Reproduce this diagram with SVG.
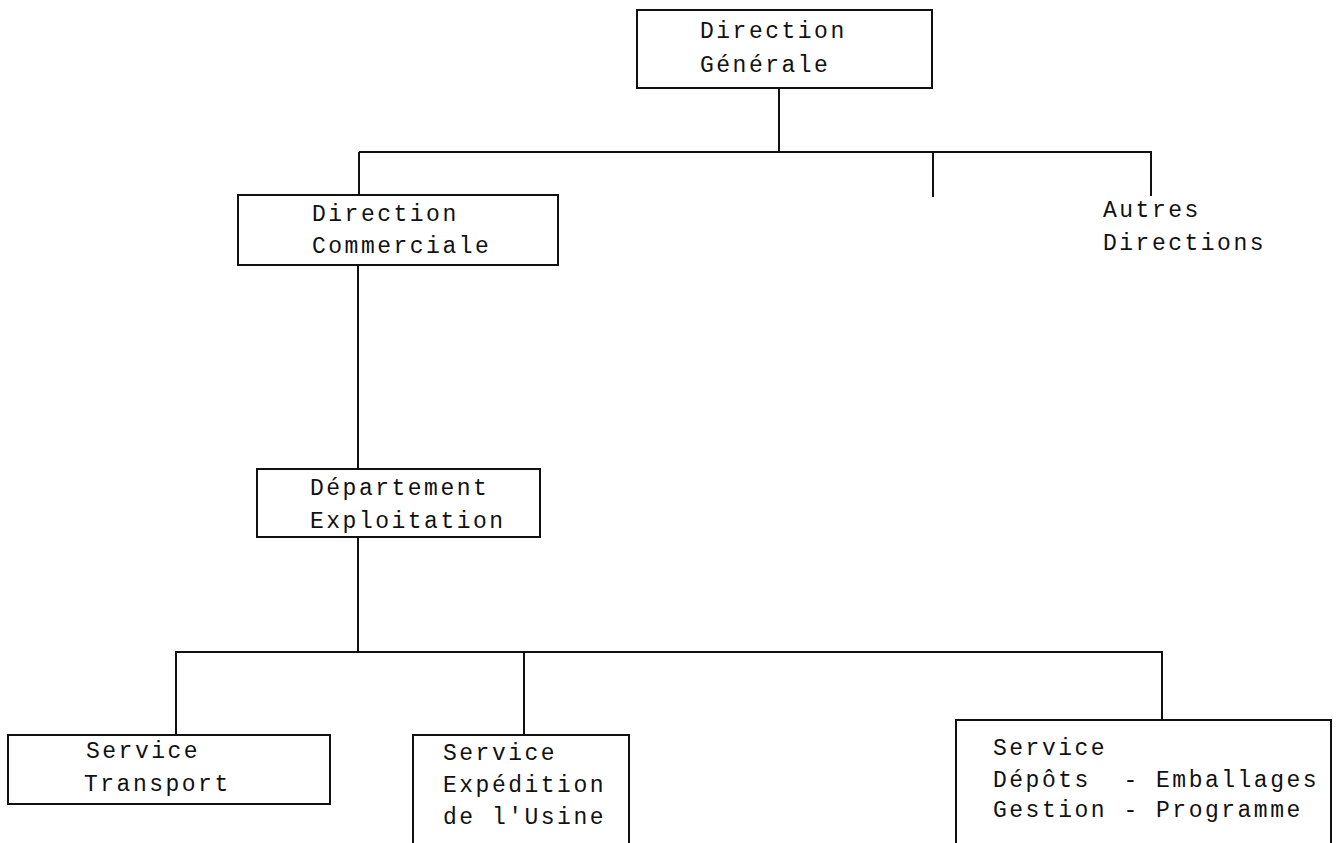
<svg xmlns="http://www.w3.org/2000/svg" width="1339" height="843" viewBox="0 0 1339 843">
<style>
.box{fill:none;stroke:#111;stroke-width:2}
.ln{fill:none;stroke:#111;stroke-width:2}
.t{font-family:"Liberation Mono","DejaVu Sans Mono",monospace;font-size:23px;letter-spacing:2.5px;fill:#111;white-space:pre}
</style>
<rect width="1339" height="843" fill="#fff"/>
<g id="connectors">
<path class="ln" d="M779 88V152"/>
<path class="ln" d="M359 152H1151V196"/>
<path class="ln" d="M359 152V195"/>
<path class="ln" d="M933 152V197"/>
<path class="ln" d="M358 265V469"/>
<path class="ln" d="M358 537V652"/>
<path class="ln" d="M176 735V652H1162V720"/>
<path class="ln" d="M524 652V735"/>
</g>
<g id="direction-generale">
<rect class="box" x="637" y="10" width="295" height="78"/>
<text class="t" x="700" y="38">Direction</text>
<text class="t" x="700" y="72">Générale</text>
</g>
<g id="direction-commerciale">
<rect class="box" x="238" y="195" width="320" height="70"/>
<text class="t" x="312" y="221">Direction</text>
<text class="t" x="312" y="253">Commerciale</text>
</g>
<g id="autres-directions">
<text class="t" x="1103" y="217">Autres</text>
<text class="t" x="1103" y="250">Directions</text>
</g>
<g id="departement-exploitation">
<rect class="box" x="257" y="469" width="283" height="68"/>
<text class="t" x="310" y="495">Département</text>
<text class="t" x="310" y="528">Exploitation</text>
</g>
<g id="service-transport">
<rect class="box" x="8" y="735" width="322" height="69"/>
<text class="t" x="86" y="758">Service</text>
<text class="t" x="84" y="791">Transport</text>
</g>
<g id="service-expedition">
<path class="box" d="M413 843V735H629V843"/>
<text class="t" x="443" y="760">Service</text>
<text class="t" x="443" y="792">Expédition</text>
<text class="t" x="443" y="824">de l'Usine</text>
</g>
<g id="service-depots">
<path class="box" d="M956 843V720H1331V843"/>
<text class="t" x="993" y="755">Service</text>
<text class="t" x="993" y="787">Dépôts  - Emballages</text>
<text class="t" x="993" y="817">Gestion - Programme</text>
</g>
</svg>
